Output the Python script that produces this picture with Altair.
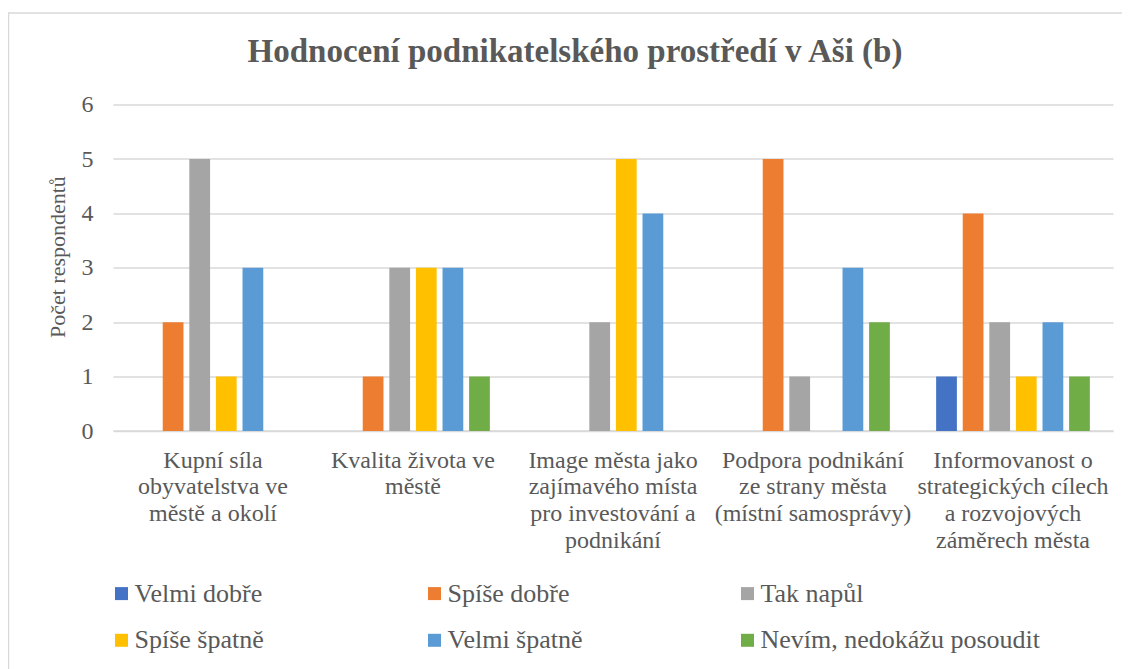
import json
import altair as alt
import pandas as pd

# ---- data ----
categories = [
    "Kupní síla obyvatelstva ve městě a okolí",
    "Kvalita života ve městě",
    "Image města jako zajímavého místa pro investování a podnikání",
    "Podpora podnikání ze strany města (místní samosprávy)",
    "Informovanost o strategických cílech a rozvojových záměrech města",
]
category_lines = [
    ["Kupní síla", "obyvatelstva ve", "městě a okolí"],
    ["Kvalita života ve", "městě"],
    ["Image města jako", "zajímavého místa", "pro investování a", "podnikání"],
    ["Podpora podnikání", "ze strany města", "(místní samosprávy)"],
    ["Informovanost o", "strategických cílech", "a rozvojových", "záměrech města"],
]
series = ["Velmi dobře", "Spíše dobře", "Tak napůl", "Spíše špatně", "Velmi špatně",
          "Nevím, nedokážu posoudit"]
colors = ["#4472C4", "#ED7D31", "#A5A5A5", "#FFC000", "#5B9BD5", "#70AD47"]

velmi_dobre = [0, 0, 0, 0, 1]
spise_dobre = [2, 1, 0, 5, 4]
tak_napul = [5, 3, 2, 1, 2]
spise_spatne = [1, 3, 5, 0, 1]
velmi_spatne = [3, 3, 4, 3, 2]
nevim = [0, 1, 0, 2, 1]

values_by_series = [velmi_dobre, spise_dobre, tak_napul, spise_spatne, velmi_spatne, nevim]

rows = []
for s, vals in zip(series, values_by_series):
    for c, v in zip(categories, vals):
        rows.append({"kategorie": c, "hodnoceni": s, "pocet": v})
df = pd.DataFrame(rows)

label_map = json.dumps(dict(zip(categories, category_lines)), ensure_ascii=False)

FONT = "Liberation Serif"
GREY = "#595959"

W, H = 1000, 326.4
PAD_L, PAD_T, PAD_R = 105, 96.6, 9
PAD_B = 661 - PAD_T - H

bars = alt.Chart(df).mark_bar().encode(
    x=alt.X("kategorie:N", sort=categories,
            scale=alt.Scale(paddingInner=0, paddingOuter=0),
            axis=alt.Axis(title=None, labelExpr=f"{label_map}[datum.label]",
                          labelAngle=0, ticks=False, domain=True,
                          domainColor="#D9D9D9", domainWidth=1.5,
                          labelFont=FONT, labelFontSize=24, labelColor=GREY,
                          labelLineHeight=26.7, labelPadding=17,
                          labelBaseline="top", labelLimit=0)),
    xOffset=alt.XOffset("hodnoceni:N", sort=series,
                        scale=alt.Scale(paddingInner=0.22, paddingOuter=0.87)),
    y=alt.Y("pocet:Q",
            scale=alt.Scale(domain=[0, 6], nice=False),
            axis=alt.Axis(title="Počet respondentů", values=[0, 1, 2, 3, 4, 5, 6],
                          ticks=False, domain=False, grid=True,
                          gridColor="#D9D9D9", gridWidth=1.5,
                          labelFont=FONT, labelFontSize=24, labelColor=GREY,
                          labelPadding=20,
                          titleFont=FONT, titleFontSize=22, titleFontWeight="normal",
                          titleColor=GREY, titleAngle=270, titleX=-56, titleY=152,
                          titleAlign="center", titleBaseline="middle")),
    color=alt.Color("hodnoceni:N", sort=series,
                    scale=alt.Scale(domain=series, range=colors),
                    legend=alt.Legend(title=None, orient="none", legendX=-4.5, legendY=476,
                                      direction="horizontal",
                                      columns=3, gridAlign="all", columnPadding=7,
                                      rowPadding=20.7, symbolType="square",
                                      symbolSize=169, symbolStrokeWidth=0,
                                      symbolOpacity=1, labelOffset=0,
                                      labelFont=FONT, labelFontSize=26,
                                      labelColor=GREY, labelLimit=0)),
)

frame = alt.Chart(alt.Data(values=[{"f": 1}])).mark_rect(
    fill=None, stroke="#D9D9D9", strokeWidth=1.5
).encode(
    x=alt.value(-PAD_L + 0.5),
    x2=alt.value(W + 60),
    y=alt.value(13 - 8 - PAD_T),
    y2=alt.value(H + 400),
)

chart = alt.layer(frame, bars).properties(
    width=W, height=H,
    autosize=alt.AutoSizeParams(type="none"),
    padding={"left": PAD_L, "top": PAD_T, "right": PAD_R, "bottom": PAD_B},
    title=alt.TitleParams(
        text="Hodnocení podnikatelského prostředí v Aši (b)",
        font=FONT, fontSize=33, fontWeight="bold", color=GREY,
        anchor="middle", frame="group", dx=-38, offset=-57,
    ),
).configure(
    background="white", font=FONT
).configure_view(stroke=None)

chart.save("out.html", embed_options={"renderer": "svg", "actions": False})
